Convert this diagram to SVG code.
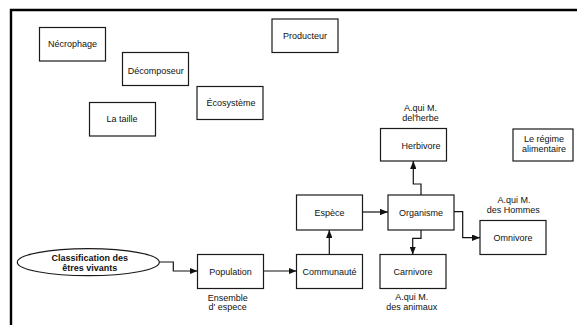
<svg xmlns="http://www.w3.org/2000/svg" width="577" height="325" viewBox="0 0 577 325">
  <defs>
    <style>
      .box { fill: #ffffff; stroke: #1a1a1a; stroke-width: 1.2; }
      .lbl { font-family: "Liberation Sans", Arial, sans-serif; font-size: 9px; fill: #111; text-anchor: middle; }
      .bold { font-weight: bold; }
      .link { fill: none; stroke: #111; stroke-width: 1.2; marker-end: url(#arrow); }
    </style>
    <marker id="arrow" viewBox="0 0 10 8" refX="10" refY="4" markerWidth="8" markerHeight="6.4" markerUnits="userSpaceOnUse" orient="auto">
      <path d="M0,0 L10,4 L0,8 Z" fill="#111"/>
    </marker>
  </defs>

  <rect width="577" height="325" fill="#ffffff"/>
  <!-- outer frame -->
  <path d="M11,326 L11,10 L578,10" fill="none" stroke="#000" stroke-width="2.4"/>

  <g id="necrophage"><rect class="box" x="39.5" y="27.5" width="66" height="33.5"/><text class="lbl" x="72.5" y="47.3">Nécrophage</text></g>
  <g id="decomposeur"><rect class="box" x="122.5" y="52.5" width="66" height="33"/><text class="lbl" x="155.8" y="73.7">Décomposeur</text></g>
  <g id="ecosysteme"><rect class="box" x="197" y="86.5" width="66" height="33"/><text class="lbl" x="231" y="105.7">Écosystème</text></g>
  <g id="la-taille"><rect class="box" x="89.5" y="102.5" width="66" height="33.5"/><text class="lbl" x="122" y="122.3">La taille</text></g>
  <g id="producteur"><rect class="box" x="272" y="19" width="66" height="33.5"/><text class="lbl" x="305" y="39">Producteur</text></g>
  <g id="regime"><rect class="box" x="513" y="129" width="60" height="32"/><text class="lbl" x="544" y="141.5">Le régime</text><text class="lbl" x="544" y="152">alimentaire</text></g>

  <g id="herbivore"><rect class="box" x="380.5" y="128.5" width="66" height="32.5"/><text class="lbl" x="421" y="148.5">Herbivore</text><text class="lbl" x="420.5" y="111">A.qui M.</text><text class="lbl" x="420.5" y="120.5">del'herbe</text></g>
  <g id="espece"><rect class="box" x="296.5" y="195" width="66" height="35"/><text class="lbl" x="329.5" y="215.5">Espèce</text></g>
  <g id="organisme"><rect class="box" x="388" y="195" width="66" height="35"/><text class="lbl" x="421" y="215.5">Organisme</text></g>
  <g id="omnivore"><rect class="box" x="480" y="220.5" width="66" height="34"/><text class="lbl" x="513" y="240.5">Omnivore</text><text class="lbl" x="514" y="203">A.qui M.</text><text class="lbl" x="513.2" y="213">des Hommes</text></g>
  <g id="communaute"><rect class="box" x="296.5" y="254.5" width="66" height="34"/><text class="lbl" x="329.5" y="274.5">Communauté</text></g>
  <g id="carnivore"><rect class="box" x="380" y="254.5" width="66" height="34"/><text class="lbl" x="413" y="274.5">Carnivore</text><text class="lbl" x="411.7" y="300">A.qui M.</text><text class="lbl" x="411.7" y="310">des animaux</text></g>
  <g id="population"><rect class="box" x="197.5" y="254.5" width="66" height="34"/><text class="lbl" x="230.5" y="274.5">Population</text><text class="lbl" x="227.7" y="300.7">Ensemble</text><text class="lbl" x="227.7" y="309.7">d' espece</text></g>
  <g id="classification"><ellipse class="box" cx="88.3" cy="262.2" rx="71" ry="13.5"/><text class="lbl bold" x="89.8" y="261.3">Classification des</text><text class="lbl bold" x="89.8" y="270.7">êtres vivants</text></g>

  <g id="connectors">
    <path class="link" d="M159.3,262 H173.3 V271 H197.5"/>
    <path class="link" d="M263.5,271 H296.5"/>
    <path class="link" d="M329.3,254.5 V230"/>
    <path class="link" d="M362.5,212 H388"/>
    <path class="link" d="M421,195 V184 H413.3 V161"/>
    <path class="link" d="M421,230 V238.3 H412.7 V254.5"/>
    <path class="link" d="M454,211.7 H462.7 V237.7 H480"/>
  </g>
</svg>
